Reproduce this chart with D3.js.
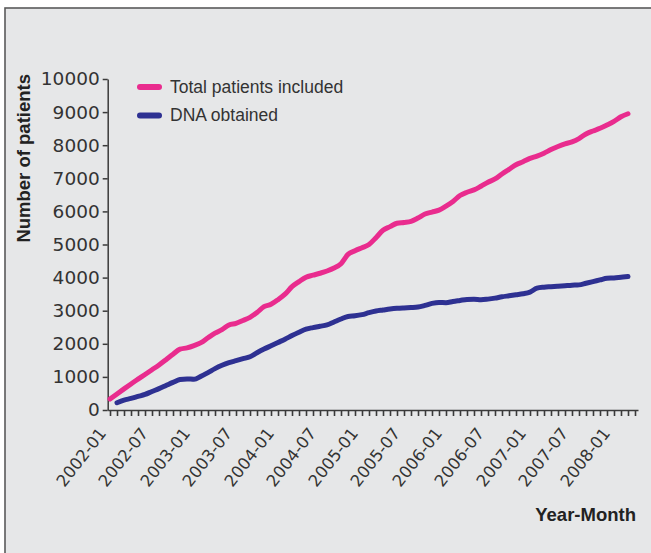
<!DOCTYPE html>
<html>
<head>
<meta charset="utf-8">
<script src="https://cdn.jsdelivr.net/npm/d3@7/dist/d3.min.js"></script>
<style>
body { margin: 0; background: #fff; }
svg { display: block; }
</style>
</head>
<body>
<script>

// first month of the series and month labels shown on the x axis
var startYear = 2002
var tickLabels = ["2002-01","2002-07","2003-01","2003-07","2004-01","2004-07","2005-01",
                  "2005-07","2006-01","2006-07","2007-01","2007-07","2008-01"]
var yTicks = [0,1000,2000,3000,4000,5000,6000,7000,8000,9000,10000]

// monthly cumulative counts, 2002-01 .. 2008-03
var totalPatients = [330,486,638,787,931,1073,1216,1360,1521,1685,
                     1837,1877,1947,2036,2184,2322,2427,2568,2616,2705,
                     2800,2945,3121,3195,3333,3499,3725,3878,4013,4073,
                     4132,4200,4290,4420,4700,4810,4903,5000,5206,5430,
                     5540,5641,5667,5700,5800,5921,5980,6040,6160,6300,
                     6480,6580,6650,6760,6880,6980,7130,7270,7410,7500,
                     7600,7670,7760,7870,7960,8040,8100,8200,8340,8430,
                     8510,8610,8720,8860,8950]
// DNA obtained starts one month later, 2002-02 .. 2008-03
var dnaObtained = [220,300,350,410,470,560,645,740,835,920,
                   940,930,1020,1130,1250,1350,1430,1490,1550,1610,
                   1730,1840,1940,2040,2140,2250,2350,2440,2490,2530,
                   2570,2660,2750,2825,2845,2880,2940,2990,3020,3050,
                   3072,3085,3095,3110,3160,3220,3250,3242,3280,3310,
                   3340,3345,3330,3350,3380,3420,3450,3480,3510,3560,
                   3680,3710,3725,3740,3755,3770,3780,3830,3880,3930,
                   3980,3990,4010,4030]
var dnaStart = 1

var seriesNames = ["Total patients included", "DNA obtained"]
var seriesColors = ["#e92c8e", "#2e3192"]

var nTicks = 76  // monthly tick marks on the x axis

function monthLabel(i) {
	var y = startYear + Math.floor(i / 12)
	var m = (i % 12) + 1
	return y + "-" + (m < 10 ? "0" + m : m)
}

var svgWidth = 651
var svgHeight = 553

var svg = d3.select("body").append("svg")
            .attr("width", svgWidth)
            .attr("height", svgHeight)

// grey panel with its frame
svg.append("rect")
   .attr("x", 5).attr("y", 8)
   .attr("width", 700).attr("height", 600)
   .style("fill", "#e6e7e8")
   .style("stroke", "#5a5a5a")
   .style("stroke-width", 1.6)

var x = d3.scaleLinear().domain([-0.33, 75.43]).range([107.7, 638])
var y = d3.scaleLinear().domain([0, 10000]).range([410, 79])

// y axis
var yAxis = svg.append("g")
   .attr("transform", "translate(107.7,0)")
   .call(d3.axisLeft(y).tickValues(yTicks).tickFormat(d3.format("d"))
           .tickSize(5).tickPadding(3).tickSizeOuter(0))
yAxis.select(".domain").style("stroke", "#3a3a3a").style("stroke-width", 1.5)
yAxis.selectAll(".tick line").style("stroke", "#3a3a3a").style("stroke-width", 1.5)
yAxis.selectAll(".tick text")
     .style("font-family", "DejaVu Sans")
     .style("font-size", "18.5px")
     .style("fill", "#333")

// x axis, one tick per month
var xAxis = svg.append("g")
   .attr("transform", "translate(0,410)")
   .call(d3.axisBottom(x)
           .tickValues(d3.range(nTicks))
           .tickSize(6)
           .tickSizeOuter(0)
           .tickFormat(function(i) {
               var l = monthLabel(i)
               return tickLabels.indexOf(l) >= 0 ? l : ""
           }))
xAxis.select(".domain").style("stroke", "#3a3a3a").style("stroke-width", 1.5)
xAxis.selectAll(".tick line").style("stroke", "#3a3a3a").style("stroke-width", 1.6)
xAxis.selectAll(".tick text")
     .attr("x", 0).attr("y", 0).attr("dy", "0.35em")
     .attr("text-anchor", "end")
     .attr("transform", "translate(-8,20) rotate(-52)")
     .style("font-family", "DejaVu Sans")
     .style("font-size", "16.5px")
     .style("fill", "#333")

// axis titles
svg.append("text")
   .attr("transform", "translate(30,74) rotate(-90)")
   .attr("text-anchor", "end")
   .style("font-family", "Liberation Sans")
   .style("font-weight", "bold")
   .style("font-size", "18.5px")
   .style("fill", "#222")
   .text("Number of patients")

svg.append("text")
   .attr("x", 636).attr("y", 521)
   .attr("text-anchor", "end")
   .style("font-family", "Liberation Sans")
   .style("font-weight", "bold")
   .style("font-size", "18.5px")
   .style("fill", "#222")
   .text("Year-Month")

// lines
var line = d3.line()
             .x(function(d) { return x(d[0]) })
             .y(function(d) { return y(d[1]) })
             .curve(d3.curveMonotoneX)

var series = [
	totalPatients.map(function(v, i) { return [i, v] }),
	dnaObtained.map(function(v, i) { return [i + dnaStart, v] })
]

series.forEach(function(s, k) {
	svg.append("path")
	   .datum(s)
	   .attr("d", line)
	   .style("fill", "none")
	   .style("stroke", seriesColors[k])
	   .style("stroke-width", 5)
	   .style("stroke-linecap", "round")
	   .style("stroke-linejoin", "round")
})

// legend
var legend = svg.append("g").attr("transform", "translate(138,87)")
seriesNames.forEach(function(name, k) {
	var g = legend.append("g").attr("transform", "translate(0," + (k * 28.5) + ")")
	g.append("line")
	 .attr("x1", 2).attr("x2", 21).attr("y1", 0).attr("y2", 0)
	 .style("stroke", seriesColors[k])
	 .style("stroke-width", 6)
	 .style("stroke-linecap", "round")
	g.append("text")
	 .attr("x", 32).attr("y", 5.5)
	 .style("font-family", "Liberation Sans")
	 .style("font-size", "17.5px")
	 .style("fill", "#333")
	 .text(name)
})

</script>
</body>
</html>
